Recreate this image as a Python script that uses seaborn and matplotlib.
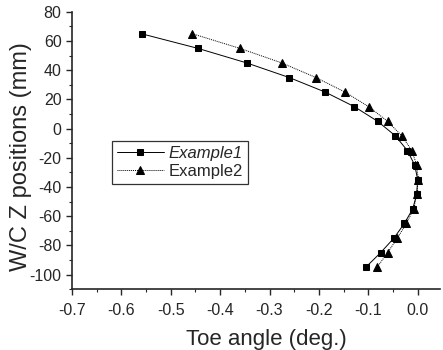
import numpy as np
import pandas as pd
import matplotlib
matplotlib.use("Agg")
import matplotlib.pyplot as plt
import seaborn as sns
from matplotlib.ticker import MultipleLocator

# W/C Z positions (mm)
z_pos = [65, 55, 45, 35, 25, 15, 5, -5, -15, -25, -35, -45, -55, -65, -75, -85, -95]
# toe angle (deg.)
toe_ex1 = [-0.559, -0.445, -0.346, -0.260, -0.187, -0.128, -0.081, -0.045, -0.021,
           -0.006, 0.000, -0.002, -0.010, -0.027, -0.048, -0.075, -0.105]
toe_ex2 = [-0.456, -0.360, -0.275, -0.206, -0.147, -0.099, -0.061, -0.032, -0.012,
           -0.002, 0.001, -0.002, -0.008, -0.023, -0.041, -0.061, -0.082]

sns.set_style("ticks")
plt.rcParams['font.family'] = ['Liberation Sans', 'DejaVu Sans']
plt.rcParams['axes.unicode_minus'] = False

fig = plt.figure(figsize=(4.43, 3.5), dpi=100)
ax = fig.add_axes([0.1625, 0.174, 0.8305, 0.792])

# estimator=None so points with equal x are not averaged
sns.lineplot(x=toe_ex1, y=z_pos, sort=False, estimator=None, ax=ax, color="black",
             lw=0.7, marker="s", markersize=5, markeredgecolor="black", label="Example1")
sns.lineplot(x=toe_ex2, y=z_pos, sort=False, estimator=None, ax=ax, color="black",
             lw=0.7, linestyle=(0, (1, 1)), marker="^", markersize=5.5,
             markeredgecolor="black", label="Example2")

ax.set_xlim(-0.7, 0.045)
ax.set_ylim(-110, 80)
ax.xaxis.set_major_locator(MultipleLocator(0.1))
ax.xaxis.set_minor_locator(MultipleLocator(0.05))
ax.yaxis.set_major_locator(MultipleLocator(20))
ax.yaxis.set_minor_locator(MultipleLocator(10))
ax.xaxis.set_major_formatter(matplotlib.ticker.FormatStrFormatter("%.1f"))
ax.tick_params(which="major", length=4, width=1, labelsize=11.5)
ax.tick_params(axis="x", which="major", pad=6)
ax.tick_params(which="minor", length=2.5, width=0.8)

sns.despine(ax=ax)
for s in ["left", "bottom"]:
    ax.spines[s].set_linewidth(1.2)

ax.set_xlabel("Toe angle (deg.)", fontsize=16)
ax.set_ylabel("W/C Z positions (mm)", fontsize=17)
ax.xaxis.set_label_coords(0.527, -0.145)
ax.yaxis.set_label_coords(-0.11, 0.478)

leg = ax.legend(loc="upper left", bbox_to_anchor=(0.109, 0.534), frameon=True,
                fancybox=False, edgecolor="black", fontsize=12, handlelength=2.8,
                borderpad=0.3, labelspacing=0.15, handletextpad=0.3, borderaxespad=0)
leg.get_frame().set_linewidth(0.9)
leg.get_texts()[0].set_style("italic")

fig.savefig("out.png", dpi=100)
